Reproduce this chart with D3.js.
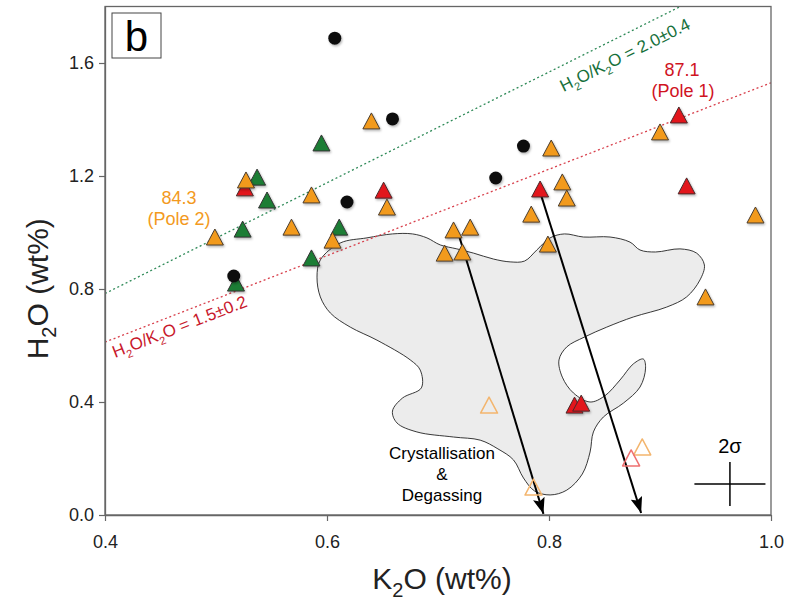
<!DOCTYPE html>
<html>
<head>
<meta charset="utf-8">
<script src="https://cdn.jsdelivr.net/npm/d3@7"></script>
<style>
  body { margin: 0; background: #fff; }
  text { font-family: Arial, "Liberation Sans", Helvetica, sans-serif; }
</style>
</head>
<body>
<div id="chart"></div>
<script>
// ---- data (K2O wt%, H2O wt%) ----
const xTicks = [0.4, 0.6, 0.8, 1.0];
const yTicks = [0.0, 0.4, 0.8, 1.2, 1.6];

const blackPts = [
    [0.607, 1.688], [0.659, 1.402], [0.777, 1.306], [0.752, 1.193],
    [0.618, 1.108], [0.516, 0.846]
];
const greenPts = [
    [0.595, 1.317], [0.537, 1.196], [0.546, 1.115], [0.524, 1.012],
    [0.611, 1.019], [0.586, 0.910], [0.518, 0.821]
];
const redPts = [
    [0.526, 1.158], [0.651, 1.150], [0.792, 1.154], [0.917, 1.416],
    [0.924, 1.165], [0.823, 0.389], [0.829, 0.396]
];
const orangePts = [
    [0.527, 1.186], [0.640, 1.395], [0.802, 1.299], [0.812, 1.179],
    [0.816, 1.122], [0.900, 1.356], [0.986, 1.062], [0.586, 1.133],
    [0.499, 0.984], [0.568, 1.019], [0.605, 0.973], [0.654, 1.090],
    [0.784, 1.065], [0.714, 1.009], [0.729, 1.019], [0.706, 0.927],
    [0.722, 0.931], [0.799, 0.959], [0.941, 0.772]
];
const hollowOrangePts = [[0.746, 0.389], [0.786, 0.099], [0.884, 0.241]];
const hollowRedPts = [[0.874, 0.202]];

// grey field outline
const fieldOutline = [
    [0.594, 0.903], [0.612, 0.963], [0.636, 0.981], [0.659, 0.995], [0.677, 0.995],
    [0.690, 0.981], [0.702, 0.956], [0.717, 0.942], [0.732, 0.927], [0.750, 0.906],
    [0.765, 0.896], [0.778, 0.899], [0.789, 0.938], [0.801, 0.981], [0.814, 0.995],
    [0.831, 0.984], [0.855, 0.984], [0.873, 0.966], [0.882, 0.938], [0.896, 0.931],
    [0.918, 0.942], [0.933, 0.927], [0.940, 0.885], [0.936, 0.832], [0.924, 0.772],
    [0.906, 0.736], [0.876, 0.701], [0.852, 0.665], [0.832, 0.630], [0.816, 0.595],
    [0.809, 0.549], [0.812, 0.488], [0.822, 0.432], [0.837, 0.400], [0.850, 0.421],
    [0.864, 0.478], [0.876, 0.535], [0.885, 0.552], [0.887, 0.520], [0.882, 0.453],
    [0.867, 0.396], [0.849, 0.347], [0.840, 0.294], [0.837, 0.223], [0.830, 0.145],
    [0.816, 0.088], [0.801, 0.071], [0.787, 0.085], [0.777, 0.131], [0.768, 0.195],
    [0.754, 0.234], [0.738, 0.265], [0.714, 0.276], [0.681, 0.294], [0.663, 0.326],
    [0.659, 0.368], [0.668, 0.414], [0.685, 0.450], [0.684, 0.513], [0.675, 0.549],
    [0.645, 0.619], [0.621, 0.665], [0.603, 0.715], [0.594, 0.772], [0.591, 0.842]
];

// H2O/K2O reference lines (slope as drawn) and their labels
const ratioSlopes = [1.96, 1.53];
const ratioNames = ["2.0±0.4", "1.5±0.2"];
const ratioLabelAt = [[0.813, 1.497], [0.409, 0.556]];

// crystallisation & degassing vectors: [from, to]
const trendArrows = [
    [[0.719, 0.988], [0.795, 0.004]],
    [[0.792, 1.143], [0.883, 0.007]]
];

// 2 sigma error cross: centre and half widths
const sigmaCentre = [0.963, 0.110];
const sigmaHalf = [0.032, 0.078];

// ---- layout ----
const W = 789, H = 600;
const margin = { left: 105, right: 771, top: 6.5, bottom: 515 };

const svg = d3.select("#chart").append("svg")
    .attr("width", W)
    .attr("height", H);

const x = d3.scaleLinear().domain([0.4, 1.0]).range([margin.left, margin.right]);
const y = d3.scaleLinear().domain([0, 1.8]).range([margin.bottom, margin.top]);

const defs = svg.append("defs");
defs.append("filter").attr("id", "shadow")
    .attr("x", "-30%").attr("y", "-30%").attr("width", "160%").attr("height", "160%")
    .append("feDropShadow")
    .attr("dx", 1).attr("dy", 1.5).attr("stdDeviation", 1)
    .attr("flood-color", "#000").attr("flood-opacity", 0.3);

defs.append("marker").attr("id", "head")
    .attr("markerUnits", "userSpaceOnUse")
    .attr("markerWidth", 17).attr("markerHeight", 12)
    .attr("refX", 16).attr("refY", 6)
    .attr("orient", "auto")
    .append("path")
    .attr("d", "M0,0L16,6L0,12L3,6Z")
    .attr("fill", "#000");

defs.append("clipPath").attr("id", "plotclip")
    .append("rect")
    .attr("x", margin.left).attr("y", margin.top)
    .attr("width", margin.right - margin.left).attr("height", margin.bottom - margin.top);

// grey field
svg.append("path")
    .datum(fieldOutline)
    .attr("d", d3.line().x(d => x(d[0])).y(d => y(d[1])).curve(d3.curveCatmullRomClosed.alpha(0.5)))
    .attr("fill", "#ececec")
    .attr("stroke", "#222")
    .attr("stroke-width", 0.9);

// ratio lines
const lineColors = ["#2f8a58", "#d8404c"];
const labelColors = ["#16703a", "#c8182b"];
const plot = svg.append("g").attr("clip-path", "url(#plotclip)");
ratioSlopes.forEach((k, i) => {
    const x1 = Math.min(1.0, 1.8 / k);
    plot.append("line")
        .attr("x1", x(0.4)).attr("y1", y(0.4 * k))
        .attr("x2", x(x1)).attr("y2", y(x1 * k))
        .attr("stroke", lineColors[i])
        .attr("stroke-width", 1.3)
        .attr("stroke-dasharray", "2,2.6");

    const ang = Math.atan2(y(k) - y(0), x(1) - x(0)) * 180 / Math.PI;
    const t = svg.append("text")
        .attr("transform", `translate(${x(ratioLabelAt[i][0])},${y(ratioLabelAt[i][1])}) rotate(${ang})`)
        .attr("fill", labelColors[i])
        .attr("font-size", 17);
    t.append("tspan").text("H");
    t.append("tspan").attr("font-size", 11).attr("dy", 5).text("2");
    t.append("tspan").attr("dy", -5).text("O/K");
    t.append("tspan").attr("font-size", 11).attr("dy", 5).text("2");
    t.append("tspan").attr("dy", -5).text("O = " + ratioNames[i]);
});

// arrows
svg.selectAll(".trend")
    .data(trendArrows)
    .enter()
    .append("line")
    .attr("class", "trend")
    .attr("x1", d => x(d[0][0])).attr("y1", d => y(d[0][1]))
    .attr("x2", d => x(d[1][0])).attr("y2", d => y(d[1][1]))
    .attr("stroke", "#000")
    .attr("stroke-width", 2)
    .attr("marker-end", "url(#head)");

// markers
const tri = (cx, cy) => `M${cx},${cy - 8}L${cx + 8.5},${cy + 8}L${cx - 8.5},${cy + 8}Z`;

function triangles(pts, fill, stroke, width, shadow) {
    svg.append("g")
        .attr("filter", shadow ? "url(#shadow)" : null)
        .selectAll("path")
        .data(pts)
        .enter()
        .append("path")
        .attr("d", d => tri(x(d[0]), y(d[1])))
        .attr("fill", fill)
        .attr("stroke", stroke)
        .attr("stroke-width", width)
        .attr("stroke-linejoin", "round");
}

triangles(greenPts, "#1c7d34", "#333", 1, true);
triangles(redPts, "#e2121c", "#4a2a2a", 1, true);
triangles(orangePts, "#f29a1f", "#4a3c2c", 1, true);
triangles(hollowOrangePts, "none", "#f3b56e", 1.5, false);
triangles(hollowRedPts, "none", "#ee7070", 1.5, false);

svg.append("g")
    .attr("filter", "url(#shadow)")
    .selectAll("circle")
    .data(blackPts)
    .enter()
    .append("circle")
    .attr("cx", d => x(d[0]))
    .attr("cy", d => y(d[1]))
    .attr("r", 6.5)
    .attr("fill", "#111");

// 2 sigma cross
svg.append("line")
    .attr("x1", x(sigmaCentre[0] - sigmaHalf[0])).attr("x2", x(sigmaCentre[0] + sigmaHalf[0]))
    .attr("y1", y(sigmaCentre[1])).attr("y2", y(sigmaCentre[1]))
    .attr("stroke", "#000").attr("stroke-width", 1.5);
svg.append("line")
    .attr("x1", x(sigmaCentre[0])).attr("x2", x(sigmaCentre[0]))
    .attr("y1", y(sigmaCentre[1] - sigmaHalf[1])).attr("y2", y(sigmaCentre[1] + sigmaHalf[1]))
    .attr("stroke", "#000").attr("stroke-width", 1.5);
svg.append("text")
    .attr("x", x(sigmaCentre[0])).attr("y", 453)
    .attr("text-anchor", "middle")
    .attr("font-size", 20)
    .text("2σ");

// annotations
const ann = [
    { t: "84.3", x: 179, y: 204, c: "#f39a1e" },
    { t: "(Pole 2)", x: 179, y: 225, c: "#f39a1e" },
    { t: "87.1", x: 682, y: 76, c: "#d0141f" },
    { t: "(Pole 1)", x: 683, y: 97, c: "#d0141f" },
    { t: "Crystallisation", x: 442, y: 459, c: "#000" },
    { t: "&", x: 442, y: 480, c: "#000" },
    { t: "Degassing", x: 442, y: 501, c: "#000" }
];
svg.selectAll(".ann")
    .data(ann)
    .enter()
    .append("text")
    .attr("class", "ann")
    .attr("x", d => d.x).attr("y", d => d.y)
    .attr("text-anchor", "middle")
    .attr("font-size", d => d.c === "#000" ? 17 : 18)
    .attr("fill", d => d.c)
    .text(d => d.t);

// frame
svg.append("rect")
    .attr("x", margin.left).attr("y", margin.top)
    .attr("width", margin.right - margin.left).attr("height", margin.bottom - margin.top)
    .attr("fill", "none")
    .attr("stroke", "#666")
    .attr("stroke-width", 1.3);

// axes
const xAxis = svg.append("g")
    .attr("transform", `translate(0,${margin.bottom})`)
    .call(d3.axisBottom(x).tickValues(xTicks).tickFormat(d3.format(".1f")).tickSize(6).tickPadding(14).tickSizeOuter(0));
const yAxis = svg.append("g")
    .attr("transform", `translate(${margin.left},0)`)
    .call(d3.axisLeft(y).tickValues(yTicks).tickFormat(d3.format(".1f")).tickSize(6).tickPadding(5).tickSizeOuter(0));

[xAxis, yAxis].forEach(a => {
    a.select(".domain").attr("stroke", "#666").attr("stroke-width", 1.3);
    a.selectAll(".tick line").attr("stroke", "#666").attr("stroke-width", 1.2);
    a.selectAll(".tick text")
        .attr("font-size", 18)
        .attr("fill", "#222")
        .attr("font-family", "Arial, 'Liberation Sans', sans-serif");
});

// axis titles
const xt = svg.append("text")
    .attr("x", (margin.left + margin.right) / 2 + 4).attr("y", 589)
    .attr("text-anchor", "middle")
    .attr("font-size", 30)
    .attr("fill", "#222");
xt.append("tspan").text("K");
xt.append("tspan").attr("font-size", 20).attr("dy", 8).text("2");
xt.append("tspan").attr("dy", -8).text("O (wt%)");

const yt = svg.append("text")
    .attr("transform", `translate(48,${(margin.top + margin.bottom) / 2 + 28}) rotate(-90)`)
    .attr("text-anchor", "middle")
    .attr("font-size", 30)
    .attr("fill", "#222");
yt.append("tspan").text("H");
yt.append("tspan").attr("font-size", 20).attr("dy", 8).text("2");
yt.append("tspan").attr("dy", -8).text("O (wt%)");

// panel letter
svg.append("rect")
    .attr("x", 112).attr("y", 13)
    .attr("width", 49).attr("height", 45)
    .attr("fill", "#fff")
    .attr("stroke", "#444")
    .attr("stroke-width", 1);
svg.append("text")
    .attr("x", 136.5).attr("y", 51)
    .attr("text-anchor", "middle")
    .attr("font-size", 42)
    .attr("fill", "#000")
    .text("b");
</script>
</body>
</html>
